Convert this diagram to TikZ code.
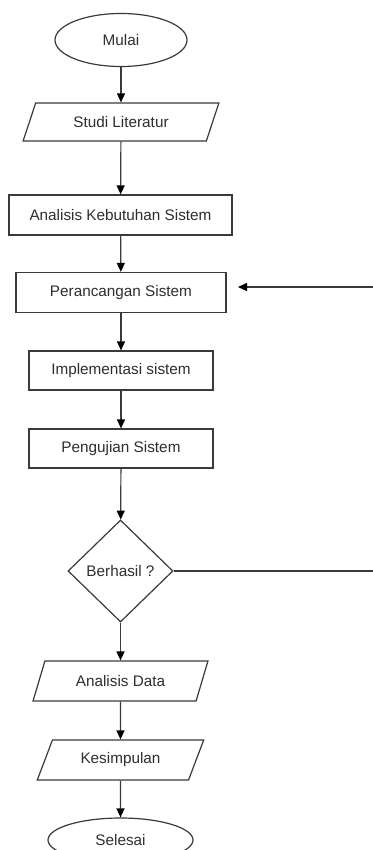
\documentclass[tikz,border=0pt]{standalone}
\usepackage{fontspec}
\setmainfont{Liberation Sans}
\usetikzlibrary{shapes.geometric,arrows.meta}
\definecolor{ln}{HTML}{3A3A3A}
\definecolor{txt}{HTML}{2E2E2E}
\begin{document}
\begin{tikzpicture}[x=1pt,y=-1pt,
  every node/.style={font=\fontsize{15.3}{18}\selectfont, text=txt},
  base/.style={draw=ln, line width=1.2pt, fill=white, inner sep=0pt},
  term/.style={base, ellipse},
  proc/.style={base, rectangle},
  io/.style={base, trapezium, trapezium left angle=58, trapezium right angle=122, trapezium stretches=true},
  decide/.style={base, diamond, aspect=1},
  flow/.style={draw=ln, line width=1.2pt, -{Triangle[length=9pt,width=8pt,color=black]}}
]
\useasboundingbox (0,0) rectangle (372,850);

\node[term, minimum width=132pt, minimum height=53pt] (mulai) at (121,40) {Mulai};
\node[io, minimum width=196pt, minimum height=38pt] (studi) at (121,122) {Studi Literatur};
\node[proc, minimum width=223pt, minimum height=40pt] (akb) at (120.5,215) {Analisis Kebutuhan Sistem};
\node[proc, minimum width=210pt, minimum height=40pt] (pers) at (121,292.5) {Perancangan Sistem};
\node[proc, minimum width=184pt, minimum height=39pt] (impl) at (121,370.5) {Implementasi sistem};
\node[proc, minimum width=184pt, minimum height=39pt] (uji) at (121,448.5) {Pengujian Sistem};
\node[decide, minimum width=105pt, minimum height=102pt] (dec) at (120.5,571) {Berhasil ?};
\node[io, minimum width=175pt, minimum height=40pt] (ad) at (120.5,681) {Analisis Data};
\node[io, minimum width=167pt, minimum height=40pt] (kes) at (120.5,760) {Kesimpulan};
\node[term, minimum width=145pt, minimum height=44pt] (sel) at (120.5,840) {Selesai};

\coordinate (fbend) at (238,287);
\coordinate (rc) at (385,571);

\draw[flow] (mulai) -- (studi);
\draw[flow] (studi) -- (akb);
\draw[flow] (akb) -- (pers);
\draw[flow] (pers) -- (impl);
\draw[flow] (impl) -- (uji);
\draw[flow] (uji) -- (dec);
\draw[flow] (dec) -- (ad);
\draw[flow] (ad) -- (kes);
\draw[flow] (kes) -- (sel);
\draw[flow] (dec.east) -- (rc) |- (fbend);
\end{tikzpicture}
\end{document}
